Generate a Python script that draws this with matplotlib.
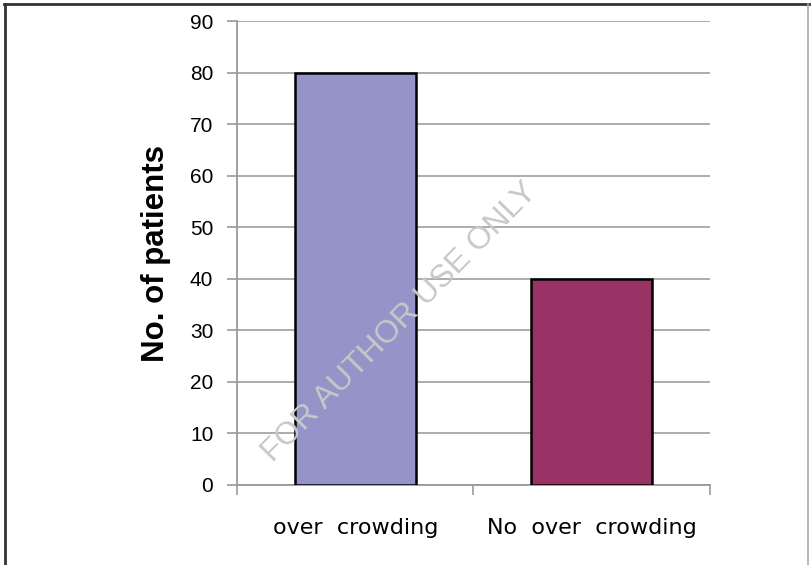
import matplotlib.pyplot as plt
from matplotlib.lines import Line2D

plt.rcParams['font.family'] = ['Liberation Sans', 'DejaVu Sans']

# Patients grouped by crowding
categories = ['over  crowding', 'No  over  crowding']
patients = [80, 40]
bar_colors = ['#9494C8', '#993366']

fig = plt.figure(figsize=(8.11, 5.65), dpi=100)
ax = fig.add_axes([0.2922, 0.1416, 0.5832, 0.8212])

x = range(len(categories))
ax.bar(x, patients, width=0.51, color=bar_colors, edgecolor='black', linewidth=1.8, zorder=3)

ax.set_xlim(-0.5, 1.5)
ax.set_ylim(0, 90)
ax.set_yticks(range(0, 91, 10))
ax.tick_params(axis='y', labelsize=15, length=7, width=1.2, color='#999999', pad=10)

# category boundaries as x ticks, labels centred under each bar
ax.set_xticks([-0.5, 0.5, 1.5])
ax.set_xticklabels([])
ax.set_xticks(list(x), minor=True)
ax.set_xticklabels(categories, minor=True, fontsize=16, family='DejaVu Sans')
ax.tick_params(axis='x', which='major', length=7, width=1.2, color='#999999')
ax.tick_params(axis='x', which='minor', length=0, pad=24)

ax.yaxis.grid(True, color='#a6a6a6', linewidth=1.3, zorder=0)
ax.set_axisbelow(True)
for side in ['top', 'right']:
    ax.spines[side].set_visible(False)
for side in ['left', 'bottom']:
    ax.spines[side].set_color('#999999')
    ax.spines[side].set_linewidth(1.3)

ax.set_ylabel('No. of patients', fontsize=22.5, fontweight='bold', labelpad=14)

# watermark across the plot
fig.text(0.493, 0.43, 'FOR AUTHOR USE ONLY', rotation=45.5, fontsize=23,
         color='#c8c8c8', ha='center', va='center', zorder=10)

# page frame
fig.add_artist(Line2D([0.005, 0.997], [0.993, 0.993], color='#333333', linewidth=2))
fig.add_artist(Line2D([0.006, 0.006], [0.0, 0.993], color='#333333', linewidth=2))
fig.add_artist(Line2D([0.996, 0.996], [0.0, 0.993], color='#aaaaaa', linewidth=1.2))

fig.savefig('out.png', dpi=100)
